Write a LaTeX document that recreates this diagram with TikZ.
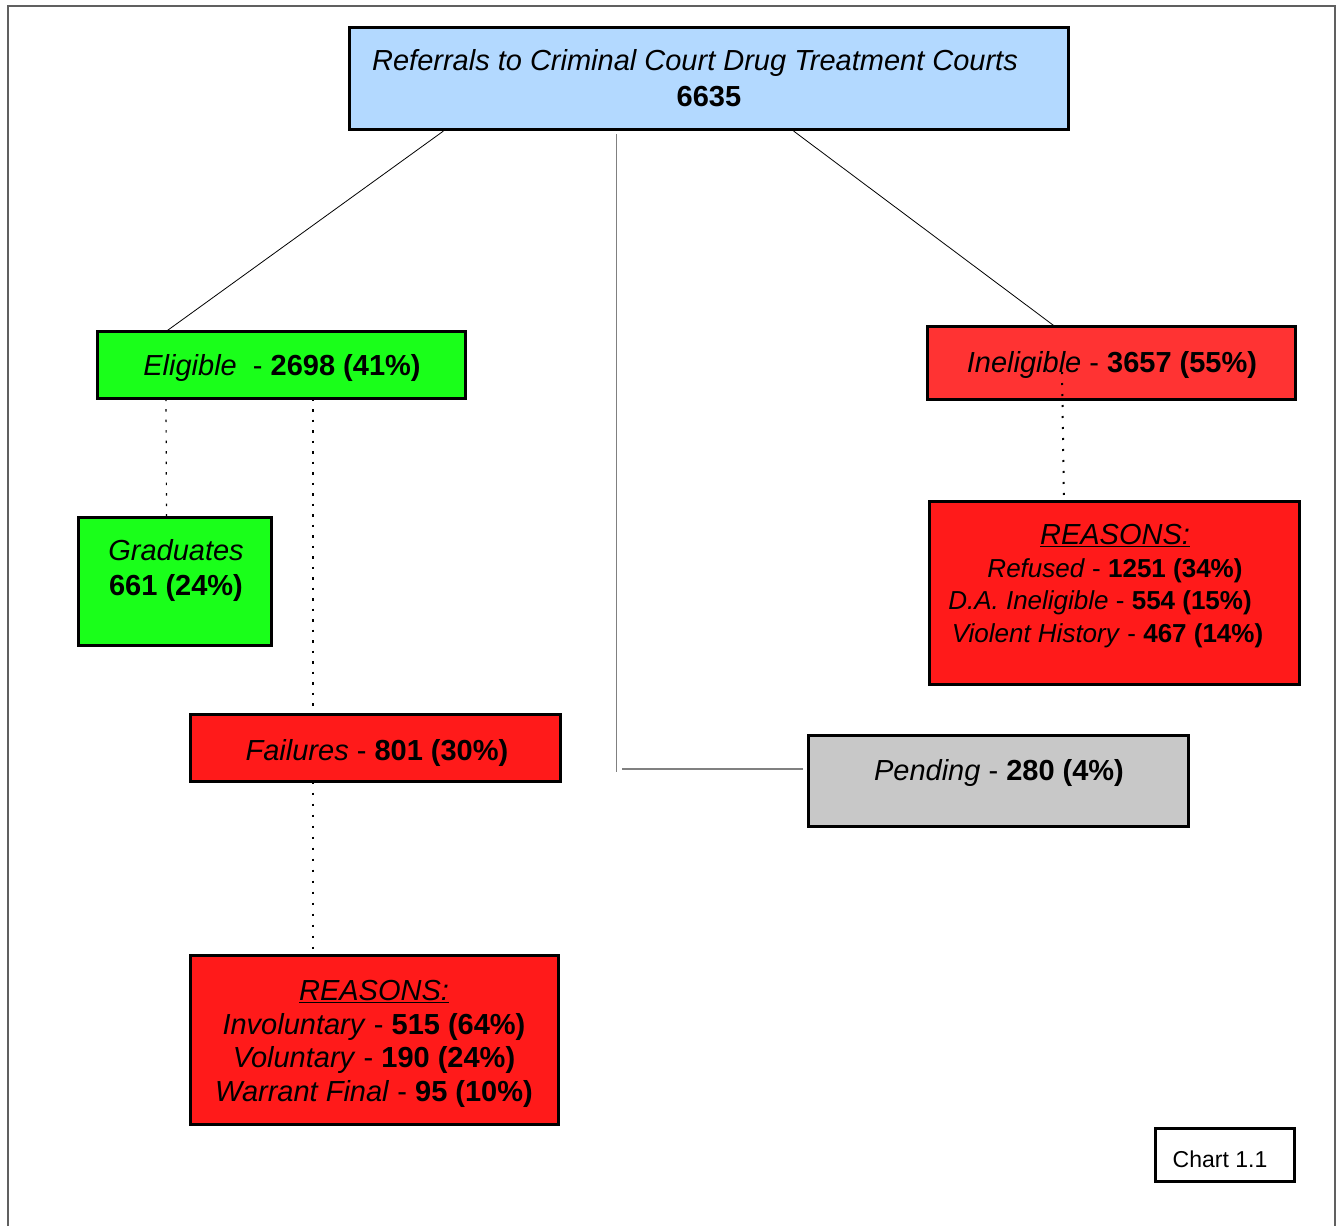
\documentclass[tikz,border=0pt]{standalone}
\usepackage{fontspec}
\setmainfont{Liberation Sans}
\definecolor{blueF}{HTML}{B3D9FF}
\definecolor{greenF}{HTML}{1AFF1A}
\definecolor{redA}{HTML}{FF3333}
\definecolor{redB}{HTML}{FF1A1A}
\definecolor{grayF}{HTML}{C8C8C8}
\definecolor{frameC}{HTML}{606060}
\definecolor{linkC}{HTML}{808080}
\begin{document}
\begin{tikzpicture}[x=1pt,y=-1pt,
  box/.style={draw=black,line width=3pt,inner sep=0pt,outer sep=0pt},
  txt/.style={inner sep=0pt,outer sep=0pt,align=center,font=\fontsize{29}{34.5}\selectfont},
  thinlink/.style={draw=black,line width=0.8pt},
  graylink/.style={draw=linkC,line width=1.4pt},
  dotA/.style={draw=black,line width=1.2pt,dash pattern=on 2.5pt off 8pt},
  dotB/.style={draw=black,line width=2pt,dash pattern=on 2pt off 9pt}]
\useasboundingbox (0,0) rectangle (1338,1226);
% outer frame
\draw[frameC,line width=1.4pt] (8,1226) -- (8,6) -- (1335,6) -- (1335,1226);

% boxes
\node[box,fill=blueF,minimum width=719pt,minimum height=102pt] (top) at (709,78) {};
\node[box,fill=greenF,minimum width=368pt,minimum height=67pt] (elig) at (281,365) {};
\node[box,fill=redA,minimum width=368pt,minimum height=73pt] (inelig) at (1111,363) {};
\node[box,fill=greenF,minimum width=193pt,minimum height=128pt] (grad) at (175,581) {};
\node[box,fill=redB,minimum width=370pt,minimum height=183pt] (reasR) at (1114,593) {};
\node[box,fill=redB,minimum width=370pt,minimum height=67pt] (fail) at (375,748) {};
\node[box,fill=grayF,minimum width=380pt,minimum height=91pt] (pend) at (998,781) {};
\node[box,fill=redB,minimum width=368pt,minimum height=169pt] (reasB) at (374,1040) {};
\node[box,fill=white,line width=2.5pt,minimum width=139pt,minimum height=53pt] (chart) at (1225,1155) {};

% texts
\node[txt,font=\fontsize{29}{36}\selectfont] (topT) at (709,78) {\hbox{\textit{Referrals to Criminal Court Drug Treatment Courts}\kern28pt}\\\textbf{6635}};
\node[txt] (eligT) at (282,368) {\textit{Eligible}\ \ - \textbf{2698 (41\%)}};
\node[txt] (ineligT) at (1112,365) {\textit{Ineligible} - \textbf{3657 (55\%)}};
\node[txt,font=\fontsize{29}{35}\selectfont] (gradT) at (176,570) {\textit{Graduates}\\\textbf{661 (24\%)}};
\node[txt,font=\fontsize{26}{32.5}\selectfont] (reasRT) at (1115,586) {{\fontsize{29}{32.5}\selectfont\textit{\underline{REASONS:}}}\\\textit{Refused} - \textbf{1251 (34\%)}\\\hbox{\textit{D.A. Ineligible} - \textbf{554 (15\%)}\kern30pt}\\\hbox{\textit{Violent History} - \textbf{467 (14\%)}\kern15pt}};
\node[txt] (failT) at (377,753) {\textit{Failures} - \textbf{801 (30\%)}};
\node[txt] (pendT) at (999,773) {\textit{Pending} - \textbf{280 (4\%)}};
\node[txt,font=\fontsize{29}{33.7}\selectfont] (reasBT) at (374,1044) {\textit{\underline{REASONS:}}\\\textit{Involuntary} - \textbf{515 (64\%)}\\\textit{Voluntary} - \textbf{190 (24\%)}\\\textit{Warrant Final} - \textbf{95 (10\%)}};
\node[txt,font=\fontsize{23}{28}\selectfont] (chartT) at (1220,1159) {Chart 1.1};

% connectors
\draw[thinlink] ([xshift=94pt,yshift=-2pt]top.south west) -- ([xshift=69pt]elig.north west);
\draw[thinlink] ([xshift=444pt,yshift=-2pt]top.south west) -- ([xshift=128pt]inelig.north west);
\draw[graylink] ([xshift=267pt,yshift=-5pt]top.south west) -- ++(0,638);
\draw[graylink] ([xshift=-5pt,yshift=12pt]pend.west) -- ++(-181,0);
\draw[dotA] ([xshift=69pt]elig.south west) -- ([xshift=88pt]grad.north west);
\draw[dotA] ([xshift=216pt]elig.south west) -- ([xshift=123pt]fail.north west);
\draw[dotB] ([xshift=123pt]fail.south west) -- ([xshift=123pt]reasB.north west);
\draw[dotB] ([xshift=-49pt,yshift=-9pt]inelig.center) -- ([xshift=-50pt]reasR.north);
\end{tikzpicture}
\end{document}
